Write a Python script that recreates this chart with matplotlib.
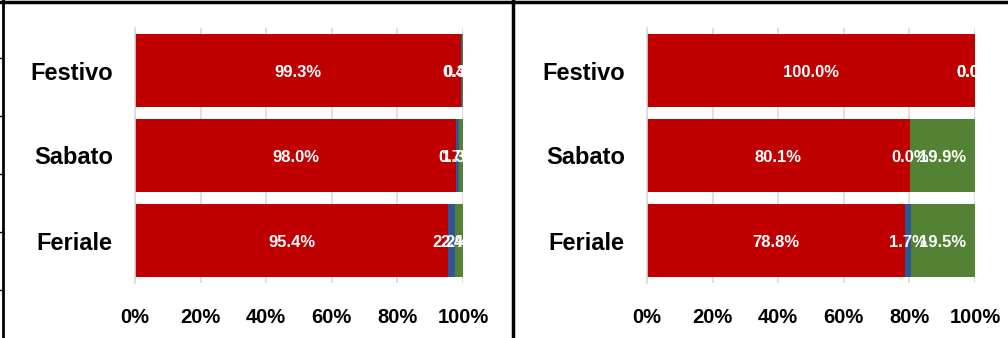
import numpy as np
import matplotlib.pyplot as plt
from matplotlib.lines import Line2D

plt.rcParams['font.family'] = ['Liberation Sans', 'DejaVu Sans']
plt.rcParams['font.weight'] = 'bold'

categories = ['Feriale', 'Sabato', 'Festivo']

# left panel (share %)
left_red = [95.4, 98.0, 99.3]
left_blue = [2.2, 0.7, 0.4]
left_green = [2.4, 1.3, 0.3]

# right panel (share %)
right_red = [78.8, 80.1, 100.0]
right_blue = [1.7, 0.0, 0.0]
right_green = [19.5, 19.9, 0.0]

colors = ['#C00000', '#2F5597', '#548235']
ticks = [0, 20, 40, 60, 80, 100]
tick_labels = ['0%', '20%', '40%', '60%', '80%', '100%']

W, H = 1008, 338
fig = plt.figure(figsize=(W / 100, H / 100), dpi=100)


def draw_panel(rect, series):
    ax = fig.add_axes(rect)
    y = np.arange(len(categories))
    left = np.zeros(len(categories))
    for vals, c in zip(series, colors):
        vals = np.array(vals)
        ax.barh(y, vals, left=left, height=0.86, color=c, zorder=2)
        for yi, v, l in zip(y, vals, left):
            t = ax.text(l + v / 2, yi - 0.02, f'{v:.1f}%', ha='center', va='center',
                        color='white', fontsize=12, fontweight='bold', zorder=3)
            t.set_clip_on(True)
        left = left + vals
    ax.set_xlim(0, 100)
    ax.set_ylim(-0.5, 2.5)
    ax.set_xticks(ticks)
    ax.set_xticklabels(tick_labels, fontsize=14.5, fontweight='bold')
    ax.set_yticks(y)
    ax.set_yticklabels(categories, fontsize=17, fontweight='bold')
    ax.tick_params(axis='x', length=0, pad=18)
    ax.tick_params(axis='y', length=0, pad=16)
    ax.grid(axis='x', color='#D9D9D9', linewidth=1.2, zorder=0)
    for s in ['top', 'right', 'bottom']:
        ax.spines[s].set_visible(False)
    ax.spines['left'].set_color('#D9D9D9')
    ax.spines['left'].set_linewidth(1.2)
    return ax


bottom = 1 - 283 / H
height = (283 - 28) / H
draw_panel([135 / W, bottom, 328 / W, height], [left_red, left_blue, left_green])
draw_panel([647 / W, bottom, 328 / W, height], [right_red, right_blue, right_green])

# panel frame lines
fig.add_artist(Line2D([0, 1], [1 - 1.5 / H, 1 - 1.5 / H], color='black', linewidth=2.5))
fig.add_artist(Line2D([3 / W, 3 / W], [0, 1], color='black', linewidth=2))
fig.add_artist(Line2D([513 / W, 513 / W], [0, 1], color='black', linewidth=2.5))
for yy in [58, 116, 174, 232, 290]:
    fig.add_artist(Line2D([0, 3 / W], [1 - yy / H, 1 - yy / H], color='black', linewidth=1))

fig.savefig('out.png', dpi=100)
